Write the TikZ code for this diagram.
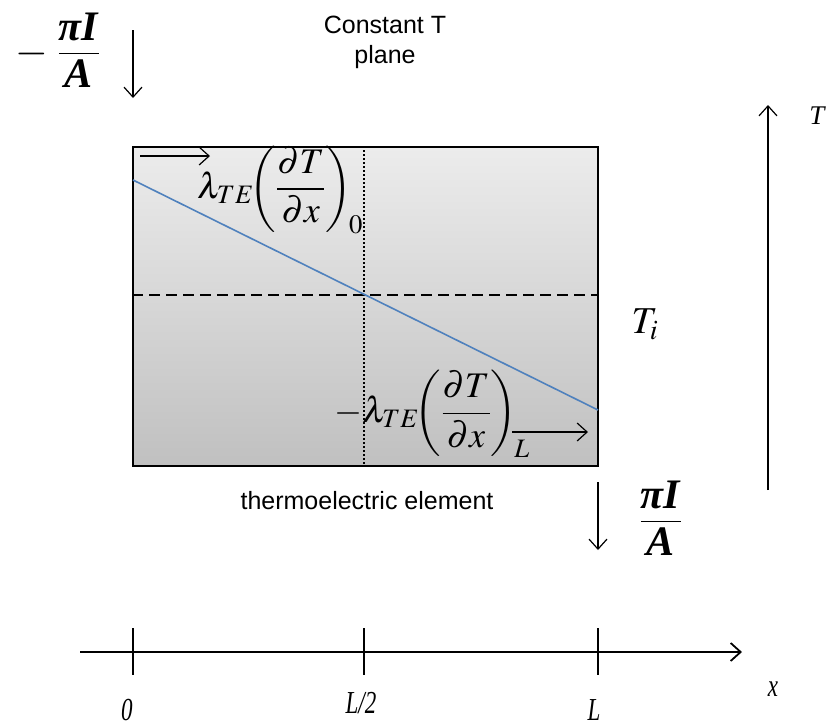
\documentclass[tikz,border=0pt]{standalone}
\usepackage{mathptmx}
\usepackage{fontspec}
\setmainfont{Liberation Serif}
\setsansfont{Liberation Sans}
\newfontfamily\axfont[FakeStretch=0.72]{Liberation Serif}
\usetikzlibrary{arrows.meta, positioning, calc}
\definecolor{lineblue}{RGB}{79,129,189}
\definecolor{boxtop}{RGB}{236,236,236}
\definecolor{boxbot}{RGB}{192,192,192}
\tikzset{
  element/.style={rectangle, draw=black, line width=1.8pt,
    top color=boxtop, bottom color=boxbot,
    minimum width=465pt, minimum height=319pt, inner sep=0pt},
  flow/.style={-{Straight Barb[length=10pt,width=18pt]}, line width=1.2pt},
  axisline/.style={-{Straight Barb[length=10pt,width=18pt]}, line width=1.8pt},
  tick/.style={line width=1.8pt},
  sftext/.style={font=\sffamily\fontsize{25}{30}\selectfont, align=center, inner sep=0pt},
  mathlbl/.style={font=\fontsize{36}{48}\selectfont, inner sep=0pt},
  biglbl/.style={font=\fontsize{38}{44}\selectfont, inner sep=0pt},
  fraclbl/.style={font=\fontsize{42}{48}\selectfont, inner sep=0pt},
  axlbl/.style={font=\axfont\itshape\fontsize{32}{36}\selectfont, inner sep=0pt}
}
\newcommand{\piIA}{\displaystyle\frac{\raisebox{-5pt}{\textbf{\textit{πI}}}}{\raisebox{5pt}{\textbf{\textit{A}}}}}
\newcommand{\grad}{\!\biggl(\frac{\partial T}{\partial x}\biggr)}

\begin{document}
\begin{tikzpicture}[x=1pt, y=-1pt]
  \useasboundingbox (0,0) rectangle (839,726);

  % Thermoelectric element
  \node[element] (elem) at (365.5,306.5) {};
  \coordinate (mid) at (364,295);
  \draw[line width=2pt, dash pattern=on 2pt off 2pt] (mid |- elem.north) -- (mid |- elem.south);
  \draw[line width=1.8pt, dash pattern=on 11pt off 6pt] (elem.west |- mid) -- (elem.east |- mid);

  % Temperature profile
  \coordinate (t0) at (133,180);
  \coordinate (tL) at (598,410);
  \draw[lineblue, line width=1.6pt] (t0) -- (tL);

  % Heat fluxes inside the element
  \coordinate (q0a) at (140,156);
  \coordinate (q0b) at (210,156);
  \draw[flow] (q0a) -- (q0b);
  \node[mathlbl] (flux0) at (280,190) {$\displaystyle\lambda_{TE}\grad_{\!0}$};
  \node[mathlbl] (fluxL) at (432,414) {$\displaystyle-\lambda_{TE}\grad_{\!L}$};
  \coordinate (qLa) at (512,432);
  \coordinate (qLb) at (588,432);
  \draw[flow] (qLa) -- (qLb);

  % Peltier terms at both ends
  \coordinate (p0a) at (133,30);
  \coordinate (p0b) at (133,98);
  \draw[flow] (p0a) -- (p0b);
  \node[fraclbl] (pin) at (58,53) {$-\;\piIA$};
  \coordinate (pLa) at (598,482);
  \coordinate (pLb) at (598,550);
  \draw[flow] (pLa) -- (pLb);
  \node[fraclbl] (pout) at (661,521) {$\piIA$};

  % Labels
  \node[sftext] (plane) at (385,42) {Constant T\\plane};
  \node[sftext] (elemlab) at (367,501) {thermoelectric element};
  \node[biglbl] (Ti) at (645,324) {$T_i$};

  % Temperature axis
  \coordinate (Ta) at (768,490);
  \coordinate (Tb) at (768,105);
  \draw[flow] (Ta) -- (Tb);
  \node[font=\itshape\fontsize{27}{30}\selectfont, inner sep=0pt] (Tlab) at (817,116) {T};

  % x axis
  \coordinate (xa) at (80,652);
  \coordinate (xb) at (742,652);
  \draw[axisline] (xa) -- (xb);
  \foreach \px/\nm/\txt/\dx/\ly in {133/x0/0/-6/710, 364/xh/{L/2}/-3/703, 598/xl/L/-4/710}{
    \draw[tick] (\px,628) -- (\px,675);
    \node[axlbl] (\nm) at (\px+\dx,\ly) {\txt};
  }
  \node[axlbl] (xlab) at (773,689) {x};
\end{tikzpicture}
\end{document}
